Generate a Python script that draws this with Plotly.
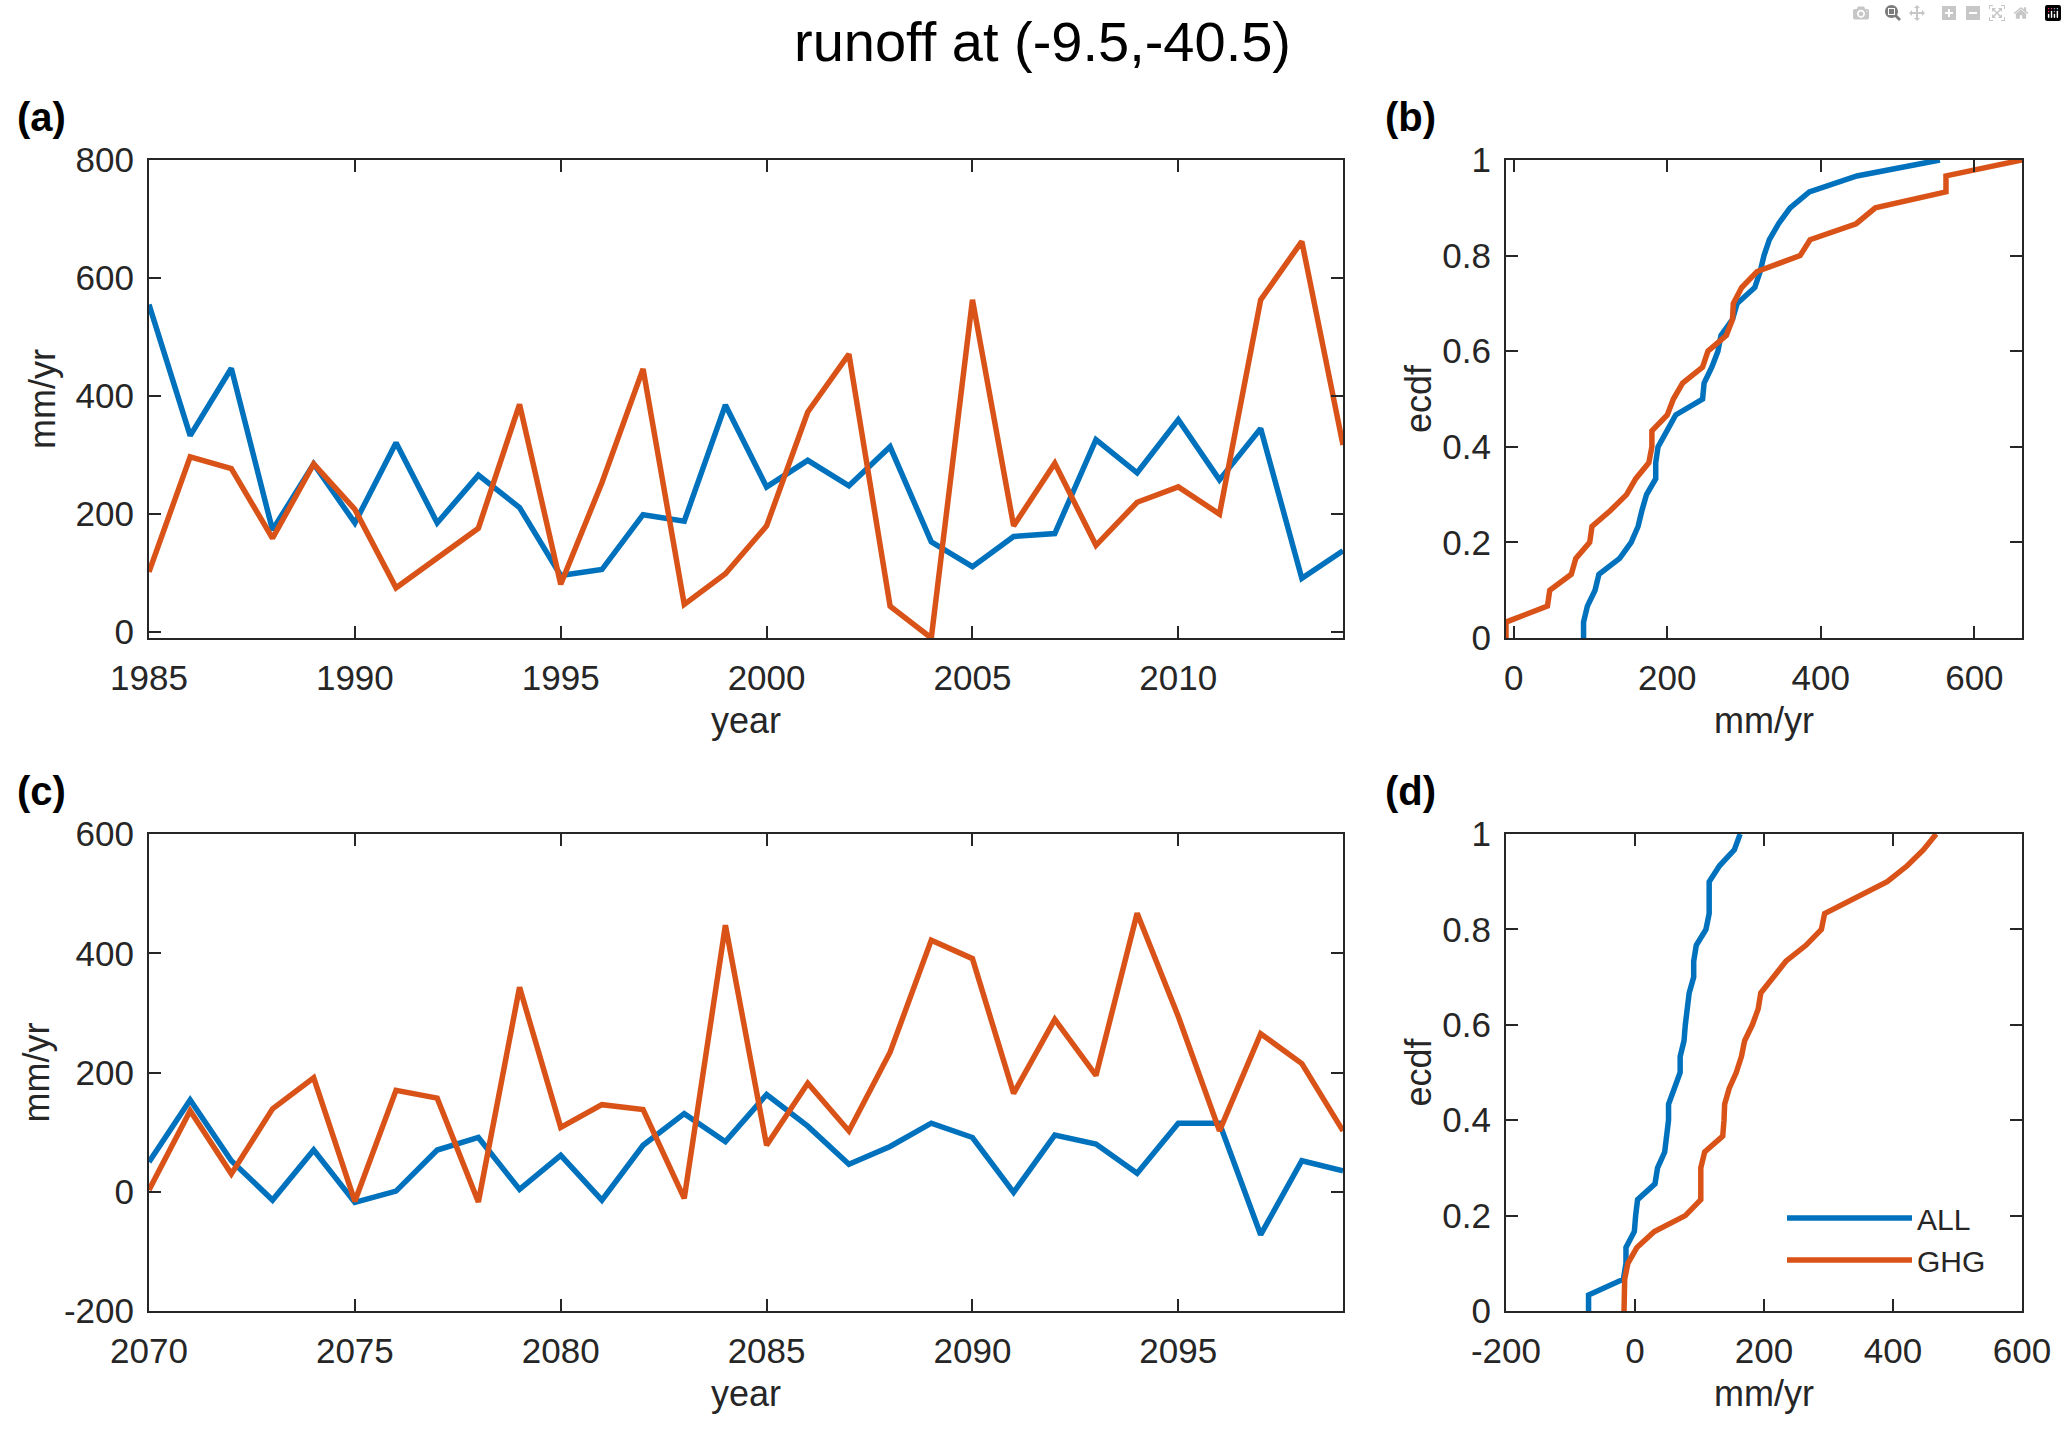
import numpy as np
import plotly.graph_objects as go

# ---------------- data ----------------
years_hist = list(range(1985, 2015))
all_hist = [555, 333, 447, 173, 285, 185, 321, 185, 266, 211, 96, 106, 199, 188, 385,
            246, 291, 248, 314, 153, 111, 162, 167, 326, 270, 360, 258, 345, 91, 138]
ghg_hist = [102, 297, 277, 159, 285, 208, 75, 126, 176, 386, 81, 253, 446, 47, 99,
            180, 373, 471, 44, -10, 563, 180, 286, 147, 220, 246, 200, 563, 662, 317]

years_fut = list(range(2070, 2100))
all_fut = [50, 154, 52, -14, 70, -18, 1, 70, 91, 4, 61, -14, 78, 131, 84,
           163, 110, 46, 76, 115, 91, -1, 95, 80, 31, 115, 115, -72, 52, 35]
ghg_fut = [3, 136, 30, 139, 191, -16, 170, 157, -17, 343, 108, 146, 138, -11, 447,
           78, 182, 102, 234, 422, 391, 165, 289, 195, 467, 294, 102, 265, 215, 102]

series_names = ["ALL", "GHG"]
colors = ["#0072BD", "#D95319"]

# tick labels (MATLAB style, hyphen-minus)
runoff_ticks_fut = [-200, 0, 200, 400, 600]
runoff_ticklabels_fut = ["-200", "0", "200", "400", "600"]

title_text = "runoff at (-9.5,-40.5)"
panel_labels = ["(a)", "(b)", "(c)", "(d)"]


def ecdf(vals):
    s = np.sort(np.asarray(vals, dtype=float))
    n = len(s)
    x = np.concatenate([[s[0]], s])
    f = np.concatenate([[0.0], np.arange(1, n + 1) / n])
    return x, f


W, H = 2067, 1437
FONT = "Liberation Sans, Arial, Helvetica, sans-serif"
TXT = "#262626"
LW = 5.5

fig = go.Figure()

# panel domains (paper coords)
xa_dom = [149 / W, 1343 / W]
xb_dom = [1506 / W, 2022 / W]
ytop_dom = [1 - 638 / H, 1 - 160 / H]
ybot_dom = [1 - 1311 / H, 1 - 834 / H]

# (a)
for name, vals, c in zip(series_names, [all_hist, ghg_hist], colors):
    fig.add_trace(go.Scatter(x=years_hist, y=vals, mode="lines", name=name,
                             line=dict(color=c, width=LW), showlegend=False,
                             xaxis="x", yaxis="y"))
# (b)
for name, vals, c in zip(series_names, [all_hist, ghg_hist], colors):
    ex, ef = ecdf(vals)
    fig.add_trace(go.Scatter(x=ex, y=ef, mode="lines", name=name,
                             line=dict(color=c, width=LW), showlegend=False,
                             xaxis="x2", yaxis="y2"))
# (c)
for name, vals, c in zip(series_names, [all_fut, ghg_fut], colors):
    fig.add_trace(go.Scatter(x=years_fut, y=vals, mode="lines", name=name,
                             line=dict(color=c, width=LW), showlegend=False,
                             xaxis="x3", yaxis="y3"))
# (d)
for name, vals, c in zip(series_names, [all_fut, ghg_fut], colors):
    ex, ef = ecdf(vals)
    fig.add_trace(go.Scatter(x=ex, y=ef, mode="lines", name=name,
                             line=dict(color=c, width=LW), showlegend=True,
                             xaxis="x4", yaxis="y4"))

tickfont = dict(family=FONT, size=35, color=TXT)
labfont = dict(family=FONT, size=36, color=TXT)


def axis(domain, rng, dtick, anchor, title=None, tick0=None, standoff=10, tls=6,
         tickvals=None, ticktext=None):
    d = dict(domain=domain, range=rng, dtick=dtick, anchor=anchor,
             showline=True, linecolor=TXT, linewidth=2, mirror="ticks",
             ticks="inside", ticklen=12, tickwidth=2, tickcolor=TXT,
             showgrid=False, zeroline=False, tickfont=tickfont,
             ticklabelstandoff=tls, automargin=False)
    if tick0 is not None:
        d["tick0"] = tick0
    if tickvals is not None:
        d["tickmode"] = "array"
        d["tickvals"] = tickvals
        d["ticktext"] = ticktext
    if title:
        d["title"] = dict(text=title, font=labfont, standoff=standoff)
    return d


ymin_a = min(min(all_hist), min(ghg_hist))
xb_rng = [min(min(all_hist), min(ghg_hist)), max(max(all_hist), max(ghg_hist))]

fig.update_layout(
    width=W, height=H,
    margin=dict(l=0, r=0, t=0, b=0, autoexpand=False),
    paper_bgcolor="white", plot_bgcolor="white",
    font=dict(family=FONT, color=TXT),
    xaxis=axis(xa_dom, [1985, 2014], 5, "y", "year", tick0=1985, standoff=12, tls=8),
    yaxis=axis(ytop_dom, [ymin_a, 800], 200, "x", "mm/yr", tick0=0, standoff=9),
    xaxis2=axis(xb_dom, xb_rng, 200, "y2", "mm/yr", tick0=0, standoff=12, tls=8),
    yaxis2=axis(ytop_dom, [0, 1], 0.2, "x2", "ecdf", tick0=0, standoff=0),
    xaxis3=axis(xa_dom, [2070, 2099], 5, "y3", "year", tick0=2070, standoff=12, tls=8),
    yaxis3=axis(ybot_dom, [-200, 600], 200, "x3", "mm/yr", standoff=3,
                tickvals=runoff_ticks_fut, ticktext=runoff_ticklabels_fut),
    xaxis4=axis(xb_dom, [-200, 600], 200, "y4", "mm/yr", standoff=12, tls=8,
                tickvals=runoff_ticks_fut, ticktext=runoff_ticklabels_fut),
    yaxis4=axis(ybot_dom, [0, 1], 0.2, "x4", "ecdf", tick0=0, standoff=0),
    legend=dict(x=1782 / W, y=1 - 1192 / H, xanchor="left", yanchor="top",
                bgcolor="rgba(0,0,0,0)", borderwidth=0, itemwidth=125,
                font=dict(family=FONT, size=30, color=TXT), tracegroupgap=0),
    showlegend=True,
)

fig.add_annotation(text=title_text, x=1042 / W, y=1 - 41 / H, xref="paper", yref="paper",
                   showarrow=False, font=dict(family=FONT, size=56, color="black"),
                   xanchor="center", yanchor="middle")
label_pos = [(41, 117), (1410, 117), (41, 791), (1410, 791)]
for lab, (px, py) in zip(panel_labels, label_pos):
    fig.add_annotation(text="<b>" + lab + "</b>", x=px / W, y=1 - py / H,
                       xref="paper", yref="paper", showarrow=False,
                       font=dict(family=FONT, size=40, color="black"),
                       xanchor="center", yanchor="middle")

fig.write_html("out.html", post_script="document.body.style.margin='0';")
